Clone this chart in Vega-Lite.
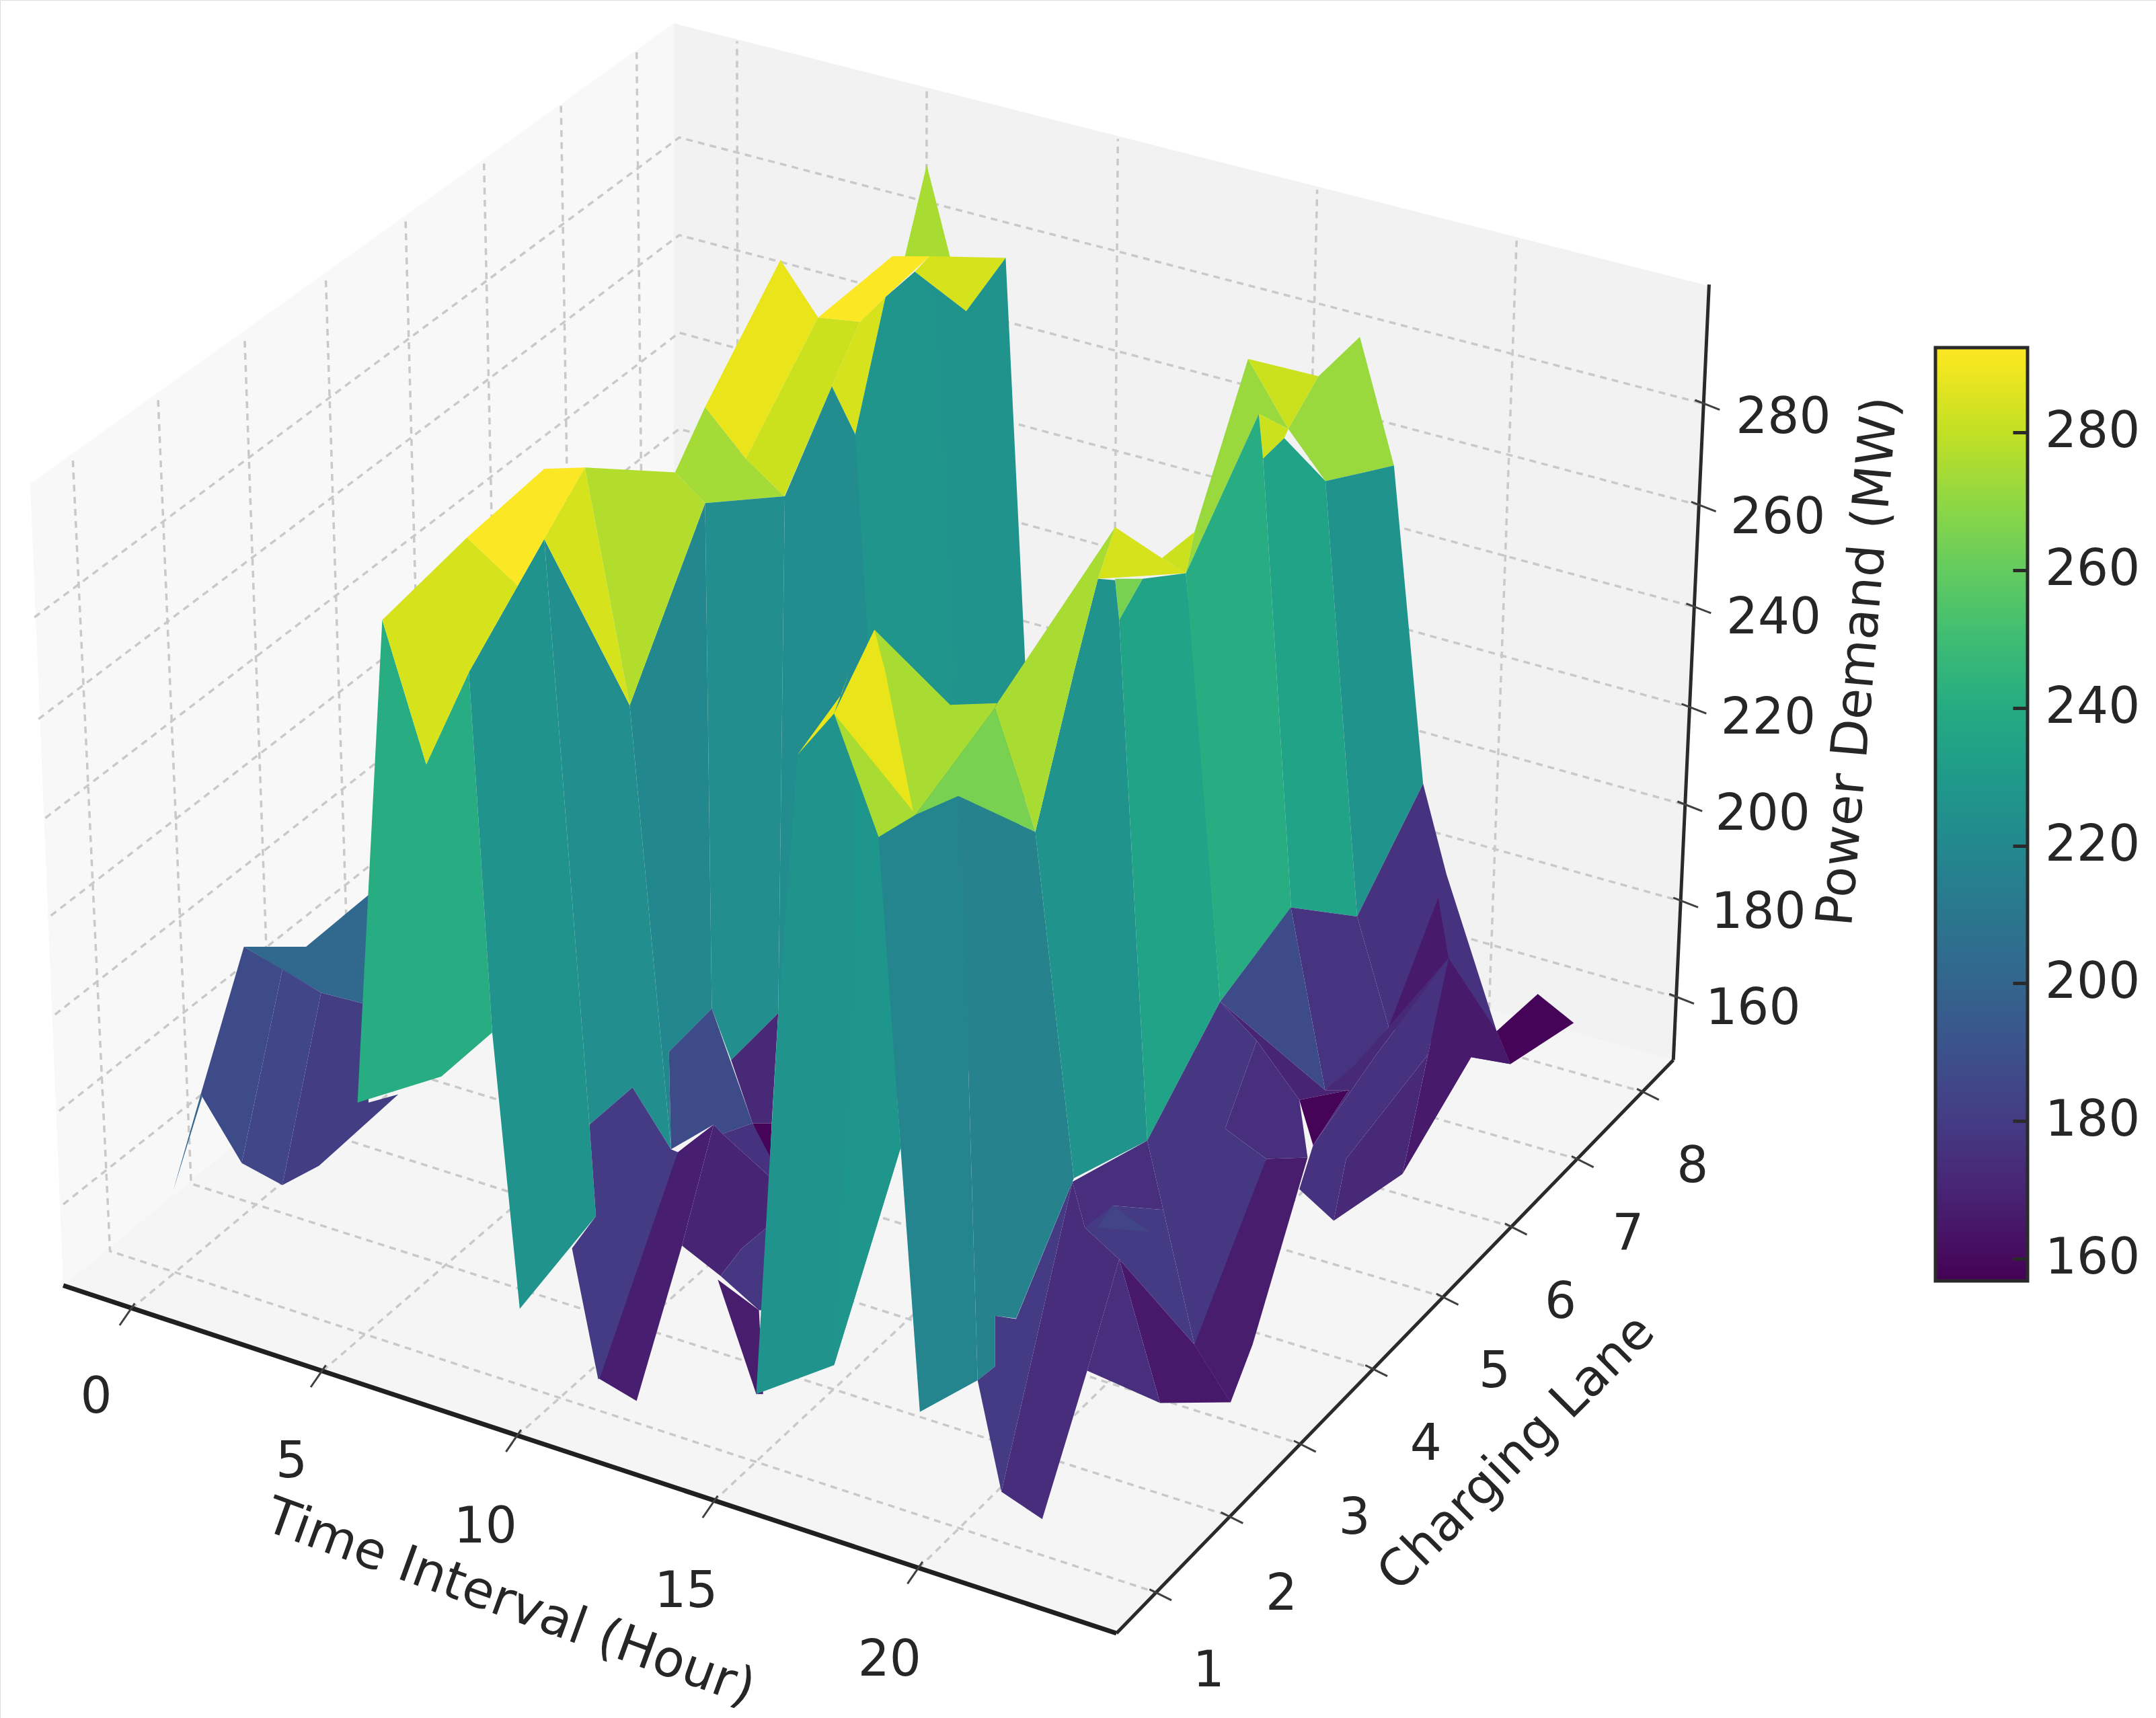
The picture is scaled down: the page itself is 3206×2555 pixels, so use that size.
{"$schema":"https://vega.github.io/schema/vega-lite/v6.json","width":3206,"height":2555,"padding":0,"autosize":{"type":"none"},"background":"white",
"projection":{"type":"identity","scale":2.0446,"translate":[0,0]},
"layer":[
{"data":{"values":[{"type":"Feature","properties":{"pane":"lane wall"},"geometry":{"type":"Polygon","coordinates":[[[46,935],[22,352],[490,17],[490,570],[46,935]]]}}]},"mark":{"type":"geoshape","fill":"#f8f8f8","stroke":null}},
{"data":{"values":[{"type":"Feature","properties":{"pane":"time wall"},"geometry":{"type":"Polygon","coordinates":[[[490,17],[1243,208],[1217,771],[490,570],[490,17]]]}}]},"mark":{"type":"geoshape","fill":"#f2f2f3","stroke":null}},
{"data":{"values":[{"type":"Feature","properties":{"pane":"floor"},"geometry":{"type":"Polygon","coordinates":[[[46,935],[812,1188],[1217,771],[490,570],[46,935]]]}}]},"mark":{"type":"geoshape","fill":"#f5f5f5","stroke":null}},
{"data":{"values":[
{"type":"Feature","properties":{"grid":"lane 1"},"geometry":{"type":"LineString","coordinates":[[53,335],[80,910],[840,1158]]}},
{"type":"Feature","properties":{"grid":"lane 2"},"geometry":{"type":"LineString","coordinates":[[115,291],[139,861],[892,1102]]}},
{"type":"Feature","properties":{"grid":"lane 3"},"geometry":{"type":"LineString","coordinates":[[178,248],[198,812],[945,1050]]}},
{"type":"Feature","properties":{"grid":"lane 4"},"geometry":{"type":"LineString","coordinates":[[237,204],[255,767],[997,995]]}},
{"type":"Feature","properties":{"grid":"lane 5"},"geometry":{"type":"LineString","coordinates":[[295,161],[310,723],[1048.6,943]]}},
{"type":"Feature","properties":{"grid":"lane 6"},"geometry":{"type":"LineString","coordinates":[[352,119],[364,678],[1098.5,892]]}},
{"type":"Feature","properties":{"grid":"lane 7"},"geometry":{"type":"LineString","coordinates":[[408,77],[417,633],[1147,843]]}},
{"type":"Feature","properties":{"grid":"lane 8"},"geometry":{"type":"LineString","coordinates":[[463,38],[469,590],[1194.5,794]]}},
{"type":"Feature","properties":{"grid":"time 0"},"geometry":{"type":"LineString","coordinates":[[95.5,952],[537,583],[536,30]]}},
{"type":"Feature","properties":{"grid":"time 5"},"geometry":{"type":"LineString","coordinates":[[234.7,997],[673,620],[674,65]]}},
{"type":"Feature","properties":{"grid":"time 10"},"geometry":{"type":"LineString","coordinates":[[376,1044.5],[809,658],[813,101]]}},
{"type":"Feature","properties":{"grid":"time 15"},"geometry":{"type":"LineString","coordinates":[[519,1092],[944,695],[958,138]]}},
{"type":"Feature","properties":{"grid":"time 20"},"geometry":{"type":"LineString","coordinates":[[668,1140.6],[1083,734],[1103,175]]}},
{"type":"Feature","properties":{"grid":"power 160"},"geometry":{"type":"LineString","coordinates":[[46,876],[494,520],[1218,725]]}},
{"type":"Feature","properties":{"grid":"power 180"},"geometry":{"type":"LineString","coordinates":[[43,808],[494,452],[1221,655]]}},
{"type":"Feature","properties":{"grid":"power 200"},"geometry":{"type":"LineString","coordinates":[[40,738],[494,382],[1224,585]]}},
{"type":"Feature","properties":{"grid":"power 220"},"geometry":{"type":"LineString","coordinates":[[37,666],[494,312],[1227,514]]}},
{"type":"Feature","properties":{"grid":"power 240"},"geometry":{"type":"LineString","coordinates":[[33,595],[494,242],[1230.4,441]]}},
{"type":"Feature","properties":{"grid":"power 260"},"geometry":{"type":"LineString","coordinates":[[28,523],[494,171],[1234,367]]}},
{"type":"Feature","properties":{"grid":"power 280"},"geometry":{"type":"LineString","coordinates":[[25,449],[494,100],[1236.7,293]]}}
]},"mark":{"type":"geoshape","filled":false,"stroke":"#c9c9c9","strokeWidth":3.5,"strokeDash":[10,8]}},
{"data":{"values":[
{"type":"Feature","properties":{"power":200},"geometry":{"type":"Polygon","coordinates":[[[126,866],[146,796],[147,798],[126,866]]]}},
{"type":"Feature","properties":{"power":202},"geometry":{"type":"Polygon","coordinates":[[[177.4,688.6],[222.6,688.6],[268,651],[290,640],[268,731],[233.5,722],[177.4,688.6]]]}},
{"type":"Feature","properties":{"power":187},"geometry":{"type":"Polygon","coordinates":[[[177.4,688.6],[205.4,705],[175.8,846],[146,796],[177.4,688.6]]]}},
{"type":"Feature","properties":{"power":185},"geometry":{"type":"Polygon","coordinates":[[[205.4,705],[233.5,722],[205.4,862],[175.8,846],[205.4,705]]]}},
{"type":"Feature","properties":{"power":181},"geometry":{"type":"Polygon","coordinates":[[[233.5,722],[268,731],[268,802],[289.7,796],[232,848],[205.4,862],[233.5,722]]]}},
{"type":"Feature","properties":{"power":275},"geometry":{"type":"Polygon","coordinates":[[[674,120],[691,187],[658,187],[674,120]]]}},
{"type":"Feature","properties":{"power":274},"geometry":{"type":"Polygon","coordinates":[[[491,343.6],[512.8,296],[542.4,333.6],[570.5,361],[512.8,366],[491,343.6]]]}},
{"type":"Feature","properties":{"power":288},"geometry":{"type":"Polygon","coordinates":[[[567.6,189],[595,231],[542.4,333.6],[512.8,296],[567.6,189]]]}},
{"type":"Feature","properties":{"power":282},"geometry":{"type":"Polygon","coordinates":[[[595,231],[625.4,234],[605,281],[570.5,361],[542.4,333.6],[595,231]]]}},
{"type":"Feature","properties":{"power":284},"geometry":{"type":"Polygon","coordinates":[[[625.4,234],[644,216],[622,316],[605,281],[625.4,234]]]}},
{"type":"Feature","properties":{"power":292},"geometry":{"type":"Polygon","coordinates":[[[595,231],[649,186.4],[676,186.4],[644,216],[625.4,234],[595,231]]]}},
{"type":"Feature","properties":{"power":284},"geometry":{"type":"Polygon","coordinates":[[[676,186.4],[731.4,187.6],[702.7,226.3],[665.3,197.6],[676,186.4]]]}},
{"type":"Feature","properties":{"power":226},"geometry":{"type":"Polygon","coordinates":[[[665.3,197.6],[702.7,226.3],[731.4,187.6],[745.5,480],[750,560],[700,800],[660,800],[665.3,197.6]]]}},
{"type":"Feature","properties":{"power":227},"geometry":{"type":"Polygon","coordinates":[[[622,316],[644,216],[665.3,197.6],[680,218],[694,489],[660,800],[615,800],[622,316]]]}},
{"type":"Feature","properties":{"power":222},"geometry":{"type":"Polygon","coordinates":[[[570.8,361],[605,281],[622,316],[632,480],[615,800],[566,737],[570.8,361]]]}},
{"type":"Feature","properties":{"power":223},"geometry":{"type":"Polygon","coordinates":[[[512.8,366],[570.8,361],[566,737],[531.7,771],[517.7,733.6],[512.8,366]]]}},
{"type":"Feature","properties":{"power":220},"geometry":{"type":"Polygon","coordinates":[[[458,513],[512.8,366],[517.7,733.6],[486.5,765],[488,836],[458,513]]]}},
{"type":"Feature","properties":{"power":223},"geometry":{"type":"Polygon","coordinates":[[[395.8,392],[458,513],[488,836],[460,791],[428.7,818],[395.8,392]]]}},
{"type":"Feature","properties":{"power":241},"geometry":{"type":"Polygon","coordinates":[[[278,451],[310,556],[341,489],[358,751],[321,783],[260,802],[278,451]]]}},
{"type":"Feature","properties":{"power":226},"geometry":{"type":"Polygon","coordinates":[[[395.8,392],[341,489],[358,751],[378,952],[433.4,884.5],[428.7,818],[395.8,392]]]}},
{"type":"Feature","properties":{"power":284},"geometry":{"type":"Polygon","coordinates":[[[278,451],[339.6,391],[376.6,426],[341,489],[310,556],[278,451]]]}},
{"type":"Feature","properties":{"power":292},"geometry":{"type":"Polygon","coordinates":[[[339.6,391],[395.8,341],[425.4,340],[395.8,392],[376.6,426],[339.6,391]]]}},
{"type":"Feature","properties":{"power":284},"geometry":{"type":"Polygon","coordinates":[[[425.4,340],[395.8,392],[458,513],[425.4,340]]]}},
{"type":"Feature","properties":{"power":277},"geometry":{"type":"Polygon","coordinates":[[[425.4,340],[491,343.6],[512.8,366],[458,513],[425.4,340]]]}},
{"type":"Feature","properties":{"power":180},"geometry":{"type":"Polygon","coordinates":[[[428.7,818],[460,791],[488,836],[493,838],[465,1000],[435,1003],[416,908],[433.4,884.5],[428.7,818]]]}},
{"type":"Feature","properties":{"power":187},"geometry":{"type":"Polygon","coordinates":[[[486.5,765],[517.7,733.6],[547.3,817],[525.5,824.7],[519,818],[488,836],[486.5,765]]]}},
{"type":"Feature","properties":{"power":172},"geometry":{"type":"Polygon","coordinates":[[[531.7,771],[566,737],[561.3,817],[547.3,817],[531.7,771]]]}},
{"type":"Feature","properties":{"power":158},"geometry":{"type":"Polygon","coordinates":[[[547.3,817],[561.3,817],[560,845],[547.3,817]]]}},
{"type":"Feature","properties":{"power":176},"geometry":{"type":"Polygon","coordinates":[[[525.5,824.7],[547.3,817],[560,841],[560,856],[525.5,824.7]]]}},
{"type":"Feature","properties":{"power":168},"geometry":{"type":"Polygon","coordinates":[[[493,838],[519,818],[496,906],[463,1019],[436,1003],[493,838]]]}},
{"type":"Feature","properties":{"power":170},"geometry":{"type":"Polygon","coordinates":[[[519,818],[525.5,824.7],[560,856],[560,891],[539.5,908],[524,928],[496,906],[519,818]]]}},
{"type":"Feature","properties":{"power":178},"geometry":{"type":"Polygon","coordinates":[[[524,928],[539.5,908],[560,891],[558,953],[552,953],[524,928]]]}},
{"type":"Feature","properties":{"power":167},"geometry":{"type":"Polygon","coordinates":[[[522,930.7],[552,953],[555,1014],[550,1014],[522,930.7]]]}},
{"type":"Feature","properties":{"power":226},"geometry":{"type":"Polygon","coordinates":[[[580,549],[606.6,519],[639,609],[655,835],[606.6,993],[550,1014],[566,737],[580,549]]]}},
{"type":"Feature","properties":{"power":228},"geometry":{"type":"Polygon","coordinates":[[[622,560],[639,609],[655,835],[606.6,993],[621,733],[622,560]]]}},
{"type":"Feature","properties":{"power":218},"geometry":{"type":"Polygon","coordinates":[[[639,609],[666,592.5],[697,579],[703,733],[711,1004],[669,1027],[655,835],[639,609]]]}},
{"type":"Feature","properties":{"power":217},"geometry":{"type":"Polygon","coordinates":[[[697,579],[753,605],[781,857],[739,959],[723.6,957],[723.6,994],[711,1004],[703,733],[697,579]]]}},
{"type":"Feature","properties":{"power":272},"geometry":{"type":"Polygon","coordinates":[[[868.7,387],[907.7,261],[937,312],[915.5,301],[862.5,417],[868.7,387]]]}},
{"type":"Feature","properties":{"power":282},"geometry":{"type":"Polygon","coordinates":[[[907.7,261],[959,273.7],[937,312],[907.7,261]]]}},
{"type":"Feature","properties":{"power":272},"geometry":{"type":"Polygon","coordinates":[[[959,273.7],[989,245],[1013.8,338.6],[964,350],[937,312],[959,273.7]]]}},
{"type":"Feature","properties":{"power":282},"geometry":{"type":"Polygon","coordinates":[[[915.5,301],[937,312],[934,318.6],[918.6,333.6],[915.5,301]]]}},
{"type":"Feature","properties":{"power":284},"geometry":{"type":"Polygon","coordinates":[[[811,383.5],[845,406],[862.5,417],[798.5,421],[811,383.5]]]}},
{"type":"Feature","properties":{"power":282},"geometry":{"type":"Polygon","coordinates":[[[845,406],[868.7,387],[862.5,417],[845,406]]]}},
{"type":"Feature","properties":{"power":265},"geometry":{"type":"Polygon","coordinates":[[[811,421],[831,421],[814,451],[811,421]]]}},
{"type":"Feature","properties":{"power":226},"geometry":{"type":"Polygon","coordinates":[[[753,605],[781,489],[798.5,421],[811,422],[814,451],[834.4,829.6],[781,857],[753,605]]]}},
{"type":"Feature","properties":{"power":235},"geometry":{"type":"Polygon","coordinates":[[[814,451],[831,421],[862.5,417],[869,489],[887.4,728.5],[834.4,829.6],[814,451]]]}},
{"type":"Feature","properties":{"power":241},"geometry":{"type":"Polygon","coordinates":[[[862.5,417],[915.5,301],[918.6,333.6],[939,660],[887.4,728.5],[862.5,417]]]}},
{"type":"Feature","properties":{"power":235},"geometry":{"type":"Polygon","coordinates":[[[918.6,333.6],[934,318.6],[964,350],[987,666.6],[939,660],[918.6,333.6]]]}},
{"type":"Feature","properties":{"power":226},"geometry":{"type":"Polygon","coordinates":[[[964,350],[1013.8,338.6],[1035,570],[987,666.6],[964,350]]]}},
{"type":"Feature","properties":{"power":275},"geometry":{"type":"Polygon","coordinates":[[[725,512],[811,383.5],[798.5,421],[781,489],[753,605],[723.6,515],[725,512]]]}},
{"type":"Feature","properties":{"power":275},"geometry":{"type":"Polygon","coordinates":[[[636,458],[691,512.7],[725,511.5],[723.6,515],[666,592.5],[639,608.8],[606.6,519],[636,458]]]}},
{"type":"Feature","properties":{"power":288},"geometry":{"type":"Polygon","coordinates":[[[606.6,519],[636,458],[644,489],[664,590],[606.6,519]]]}},
{"type":"Feature","properties":{"power":288},"geometry":{"type":"Polygon","coordinates":[[[580,549],[606.6,519],[617.6,489],[612,505],[580,549]]]}},
{"type":"Feature","properties":{"power":265},"geometry":{"type":"Polygon","coordinates":[[[723.6,515],[753,605],[697,579],[666,592.5],[723.6,515]]]}},
{"type":"Feature","properties":{"power":176},"geometry":{"type":"Polygon","coordinates":[[[1035,570],[1052,636],[1088.5,750],[1098.5,774],[1070,769],[1010,747],[987,666.6],[1035,570]]]}},
{"type":"Feature","properties":{"power":166},"geometry":{"type":"Polygon","coordinates":[[[1046,653],[1053.5,697],[1010,747],[1046,653]]]}},
{"type":"Feature","properties":{"power":166},"geometry":{"type":"Polygon","coordinates":[[[1053.5,697],[1088.5,750],[1098.5,774],[1070,769],[1020,854],[1053.5,697]]]}},
{"type":"Feature","properties":{"power":158},"geometry":{"type":"Polygon","coordinates":[[[1088.5,750],[1118.4,723],[1144.6,744],[1098.5,774],[1088.5,750]]]}},
{"type":"Feature","properties":{"power":172},"geometry":{"type":"Polygon","coordinates":[[[963.7,793],[1010,747],[1053.5,697],[1001,767],[955,833],[981,793],[963.7,793]]]}},
{"type":"Feature","properties":{"power":177},"geometry":{"type":"Polygon","coordinates":[[[938.8,660],[987,666.6],[1010,747],[985,775],[963.7,793],[938.8,660]]]}},
{"type":"Feature","properties":{"power":187},"geometry":{"type":"Polygon","coordinates":[[[887.4,728.5],[938.8,660],[963.7,793],[887.4,728.5]]]}},
{"type":"Feature","properties":{"power":170},"geometry":{"type":"Polygon","coordinates":[[[887.4,728.5],[963.7,793],[981,793],[945,800],[914,757],[887.4,728.5]]]}},
{"type":"Feature","properties":{"power":158},"geometry":{"type":"Polygon","coordinates":[[[945,800],[981,793],[955,833],[945,800]]]}},
{"type":"Feature","properties":{"power":175},"geometry":{"type":"Polygon","coordinates":[[[914,757],[945,800],[951,842],[921,843],[891,821],[914,757]]]}},
{"type":"Feature","properties":{"power":178},"geometry":{"type":"Polygon","coordinates":[[[887.4,728.5],[914,757],[891,821],[921,843],[895,1020],[868.7,978],[846,880],[834.4,829.6],[887.4,728.5]]]}},
{"type":"Feature","properties":{"power":167},"geometry":{"type":"Polygon","coordinates":[[[921,843],[951,842],[911,978],[895,1020],[868.7,978],[921,843]]]}},
{"type":"Feature","properties":{"power":176},"geometry":{"type":"Polygon","coordinates":[[[1053.5,697],[1038.6,767],[979,843],[970,888],[945,865],[955,833],[1001,767],[1053.5,697]]]}},
{"type":"Feature","properties":{"power":172},"geometry":{"type":"Polygon","coordinates":[[[1053.5,697],[1020,854],[970,888],[979,843],[1038.6,767],[1053.5,697]]]}},
{"type":"Feature","properties":{"power":175},"geometry":{"type":"Polygon","coordinates":[[[780,859.6],[834.4,829.6],[846,880],[809,877],[798,893],[789,893],[780,859.6]]]}},
{"type":"Feature","properties":{"power":180},"geometry":{"type":"Polygon","coordinates":[[[789,893],[809,877],[846,880],[868.7,978],[814,916],[789,893]]]}},
{"type":"Feature","properties":{"power":184},"geometry":{"type":"Polygon","coordinates":[[[798.5,893],[809.4,877],[836,896],[798.5,893]]]}},
{"type":"Feature","properties":{"power":165},"geometry":{"type":"Polygon","coordinates":[[[814,916],[868.7,978],[895,1020],[843.7,1020.5],[814,916]]]}},
{"type":"Feature","properties":{"power":175},"geometry":{"type":"Polygon","coordinates":[[[814,916],[843.7,1020.5],[790.7,997],[814,916]]]}},
{"type":"Feature","properties":{"power":180},"geometry":{"type":"Polygon","coordinates":[[[780,859.6],[739,959.4],[723.6,957],[723.6,994],[711,1004],[728.3,1085],[780,859.6]]]}},
{"type":"Feature","properties":{"power":174},"geometry":{"type":"Polygon","coordinates":[[[780,859.6],[789,893],[814,916],[790.7,997],[758,1105],[728.3,1085],[780,859.6]]]}}
]},"mark":{"type":"geoshape"},"encoding":{"color":{"field":"properties.power","type":"quantitative","scale":{"scheme":"viridis","domain":[156.8,292.3]},"legend":{"orient":"none","legendX":2878,"legendY":517,"direction":"vertical","title":null,"gradientLength":1388,"gradientThickness":137,"gradientStrokeColor":"#2a2a2a","gradientStrokeWidth":5,"values":[160,180,200,220,240,260,280],"labelFontSize":74,"labelFont":"DejaVu Sans","labelColor":"#262626","labelOffset":26,"labelOverlap":false,"encoding":{"labels":{"update":{"dy":{"value":6}}}}}}}},
{"data":{"values":[{"type":"Feature","properties":{"axis":"time"},"geometry":{"type":"LineString","coordinates":[[46,935],[812,1188]]}}]},"mark":{"type":"geoshape","filled":false,"stroke":"#202020","strokeWidth":7}},
{"data":{"values":[
{"type":"Feature","properties":{"axis":"lane"},"geometry":{"type":"LineString","coordinates":[[812,1188],[1217,771]]}},
{"type":"Feature","properties":{"axis":"power"},"geometry":{"type":"LineString","coordinates":[[1217,771],[1243,207]]}}
]},"mark":{"type":"geoshape","filled":false,"stroke":"#2a2a2a","strokeWidth":5}},
{"data":{"values":[
{"type":"Feature","properties":{"tick":"t0"},"geometry":{"type":"LineString","coordinates":[[98,948],[87,964]]}},
{"type":"Feature","properties":{"tick":"t5"},"geometry":{"type":"LineString","coordinates":[[237,993],[226,1009]]}},
{"type":"Feature","properties":{"tick":"t10"},"geometry":{"type":"LineString","coordinates":[[379,1040],[368,1056]]}},
{"type":"Feature","properties":{"tick":"t15"},"geometry":{"type":"LineString","coordinates":[[522,1088],[511,1104]]}},
{"type":"Feature","properties":{"tick":"t20"},"geometry":{"type":"LineString","coordinates":[[671,1136],[660,1152]]}},
{"type":"Feature","properties":{"tick":"l1"},"geometry":{"type":"LineString","coordinates":[[836,1156],[852,1164]]}},
{"type":"Feature","properties":{"tick":"l2"},"geometry":{"type":"LineString","coordinates":[[888,1100],[904,1108]]}},
{"type":"Feature","properties":{"tick":"l3"},"geometry":{"type":"LineString","coordinates":[[941,1048],[957,1056]]}},
{"type":"Feature","properties":{"tick":"l4"},"geometry":{"type":"LineString","coordinates":[[993,993],[1009,1001]]}},
{"type":"Feature","properties":{"tick":"l5"},"geometry":{"type":"LineString","coordinates":[[1044.6,941],[1060.6,949]]}},
{"type":"Feature","properties":{"tick":"l6"},"geometry":{"type":"LineString","coordinates":[[1094.5,890],[1110.5,898]]}},
{"type":"Feature","properties":{"tick":"l7"},"geometry":{"type":"LineString","coordinates":[[1143,841],[1159,849]]}},
{"type":"Feature","properties":{"tick":"l8"},"geometry":{"type":"LineString","coordinates":[[1190.5,792],[1206.5,800]]}},
{"type":"Feature","properties":{"tick":"p160"},"geometry":{"type":"LineString","coordinates":[[1214,723],[1232,730]]}},
{"type":"Feature","properties":{"tick":"p180"},"geometry":{"type":"LineString","coordinates":[[1217,653],[1235,660]]}},
{"type":"Feature","properties":{"tick":"p200"},"geometry":{"type":"LineString","coordinates":[[1220,583],[1238,590]]}},
{"type":"Feature","properties":{"tick":"p220"},"geometry":{"type":"LineString","coordinates":[[1223,512],[1241,519]]}},
{"type":"Feature","properties":{"tick":"p240"},"geometry":{"type":"LineString","coordinates":[[1226.4,439],[1244.4,446]]}},
{"type":"Feature","properties":{"tick":"p260"},"geometry":{"type":"LineString","coordinates":[[1230,365],[1248,372]]}},
{"type":"Feature","properties":{"tick":"p280"},"geometry":{"type":"LineString","coordinates":[[1232.7,291],[1250.7,298]]}}
]},"mark":{"type":"geoshape","filled":false,"stroke":"#404040","strokeWidth":3}},
{"data":{"values":[{"label":"0","lon":70,"lat":1017},{"label":"5","lon":212,"lat":1064},{"label":"10","lon":353,"lat":1111},{"label":"15","lon":499,"lat":1158},{"label":"20","lon":647,"lat":1208},{"label":"1","lon":879,"lat":1216},{"label":"2","lon":932,"lat":1160},{"label":"3","lon":985,"lat":1105},{"label":"4","lon":1037,"lat":1051},{"label":"5","lon":1087,"lat":998},{"label":"6","lon":1135,"lat":948},{"label":"7","lon":1184,"lat":898},{"label":"8","lon":1231,"lat":849},{"label":"160","lon":1275,"lat":734},{"label":"180","lon":1279,"lat":664},{"label":"200","lon":1282,"lat":593},{"label":"220","lon":1286,"lat":523},{"label":"240","lon":1290,"lat":450},{"label":"260","lon":1293,"lat":377},{"label":"280","lon":1297,"lat":304}]},"mark":{"type":"text","font":"DejaVu Sans","fontSize":74,"color":"#262626","align":"center","baseline":"middle"},"encoding":{"longitude":{"field":"lon","type":"quantitative"},"latitude":{"field":"lat","type":"quantitative"},"text":{"field":"label"}}},
{"data":{"values":[{"label":"Time Interval (Hour)","lon":371,"lat":1166}]},"mark":{"type":"text","font":"DejaVu Sans","fontSize":76,"color":"#262626","align":"center","baseline":"middle","angle":20},"encoding":{"longitude":{"field":"lon","type":"quantitative"},"latitude":{"field":"lat","type":"quantitative"},"text":{"field":"label"}}},
{"data":{"values":[{"label":"Charging Lane","lon":1103,"lat":1057}]},"mark":{"type":"text","font":"DejaVu Sans","fontSize":75,"color":"#262626","align":"center","baseline":"middle","angle":-45},"encoding":{"longitude":{"field":"lon","type":"quantitative"},"latitude":{"field":"lat","type":"quantitative"},"text":{"field":"label"}}},
{"data":{"values":[{"label":"Power Demand (MW)","lon":1352,"lat":481}]},"mark":{"type":"text","font":"DejaVu Sans","fontSize":75,"color":"#262626","align":"center","baseline":"middle","angle":-85},"encoding":{"longitude":{"field":"lon","type":"quantitative"},"latitude":{"field":"lat","type":"quantitative"},"text":{"field":"label"}}},
{"data":{"values":[{"tick":160},{"tick":180},{"tick":200},{"tick":220},{"tick":240},{"tick":260},{"tick":280}]},"mark":{"type":"rule","opacity":0},"encoding":{"y":{"field":"tick","type":"quantitative","scale":{"domain":[156.8,292.3],"range":[1905,517]},"axis":{"orient":"left","offset":-3015,"values":[160,180,200,220,240,260,280],"domain":false,"labels":false,"grid":false,"title":null,"ticks":true,"tickSize":22,"tickWidth":5,"tickColor":"#2a2a2a","zindex":1}}}}
]}
